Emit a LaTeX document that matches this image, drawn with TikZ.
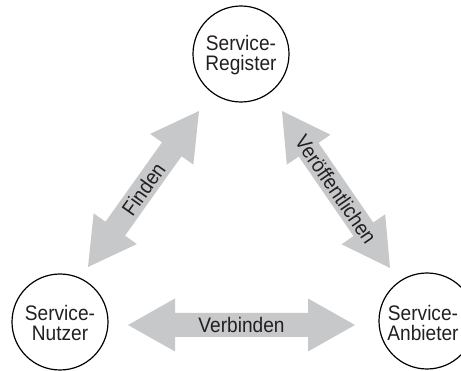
\documentclass[tikz,border=0pt]{standalone}
\usepackage{fontspec}
\setmainfont[FakeStretch=0.91]{Liberation Sans}
\usetikzlibrary{calc}
\definecolor{arrowgray}{RGB}{199,200,202}
\definecolor{inkgray}{RGB}{35,31,32}
\tikzset{
  role/.style={circle, draw=black, line width=1.2pt, minimum size=96pt,
    inner sep=0pt},
  rolelabel/.style={align=center, text=inkgray, inner sep=0pt,
    font=\fontsize{21}{20}\selectfont},
  arrowlabel/.style={font=\fontsize{21}{21}\selectfont, text=inkgray,
    sloped, inner sep=0pt},
}
% block arrow with heads at both ends, drawn between two named coordinates
\newcommand\fatarrow[3]{%
  \fill[arrowgray]
    (#1)
    -- ($(#1)!47pt!(#2)!26.5pt!90:(#2)$)
    -- ($(#1)!47pt!(#2)!12pt!90:(#2)$)
    -- ($(#2)!47pt!(#1)!12pt!-90:(#1)$)
    -- ($(#2)!47pt!(#1)!26.5pt!-90:(#1)$)
    -- (#2)
    -- ($(#2)!47pt!(#1)!26.5pt!90:(#1)$)
    -- ($(#2)!47pt!(#1)!12pt!90:(#1)$)
    -- ($(#1)!47pt!(#2)!12pt!-90:(#2)$)
    -- ($(#1)!47pt!(#2)!26.5pt!-90:(#2)$)
    -- cycle;
  \path (#1) -- node[arrowlabel]{#3} (#2);
}
\begin{document}
\begin{tikzpicture}[x=1pt,y=1pt]
  \useasboundingbox (0,0) rectangle (461,-371);

  % the three roles
  \node[role] (reg) at (241,-54)  {};
  \node[role] (use) at (60,-322)  {};
  \node[role] (pro) at (427,-321) {};
  \node[rolelabel] (regtext) at ([yshift=-1pt]reg.center) {Service-\\Register};
  \node[rolelabel] (usetext) at ([yshift=-1pt]use.center) {Service-\\Nutzer};
  \node[rolelabel] (protext) at ([xshift=-4pt,yshift=-2pt]pro.center) {Service-\\Anbieter};

  % arrow end points
  \coordinate (findA) at (88,-267);
  \coordinate (findB) at (199,-111);
  \coordinate (pubA)  at (282,-111);
  \coordinate (pubB)  at (390,-268);
  \coordinate (conA)  at (128,-325);
  \coordinate (conB)  at (355,-325);

  \fatarrow{findA}{findB}{Finden}
  \fatarrow{pubA}{pubB}{Veröffentlichen}
  \fatarrow{conA}{conB}{Verbinden}
\end{tikzpicture}
\end{document}
